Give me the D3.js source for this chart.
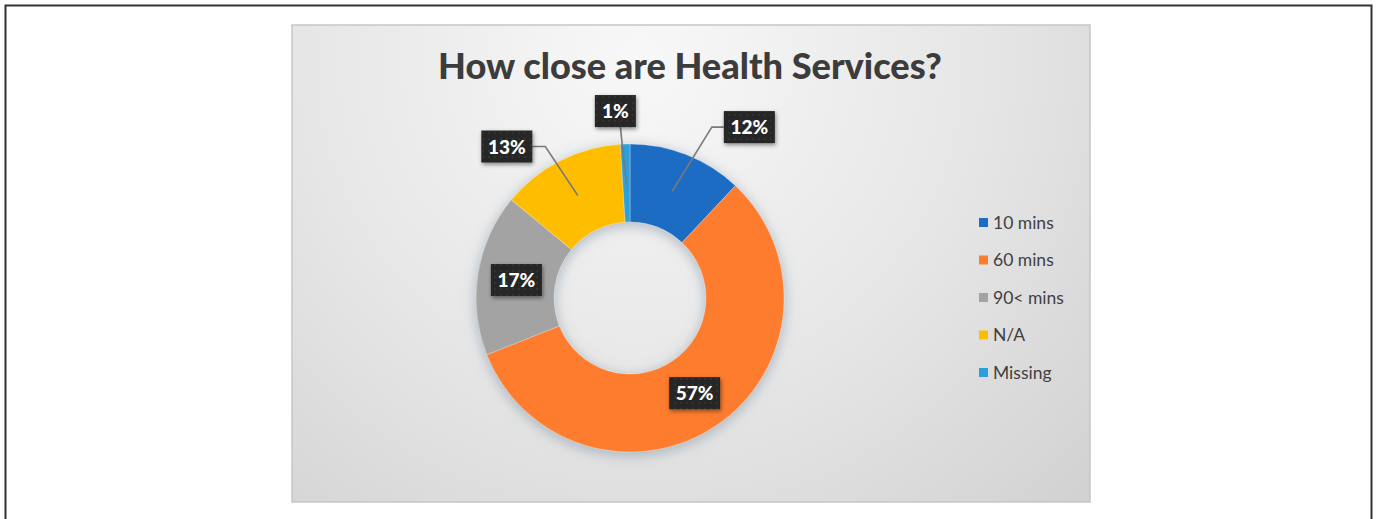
<!DOCTYPE html>
<html><head><meta charset="utf-8">
<script src="https://cdn.jsdelivr.net/npm/d3@7"></script>
<style>html,body{margin:0;padding:0;background:#fff;overflow:hidden}</style>
</head><body>
<script>
const categories = ["10 mins", "60 mins", "90< mins", "N/A", "Missing"];
const values = [12, 57, 17, 13, 1];
const colors = ["#1f6cc4", "#fd7c2d", "#a3a3a3", "#ffbd00", "#29a0dc"];
const labelOffsets = [[77, -64], [0, 0], [0, 0], [-71, -49], [-11, -72]];
const title = "How close are Health Services?";

const W = 1377, H = 519;
const svg = d3.select("body").append("svg").attr("width", W).attr("height", H)
  .style("font-family", "Lato, 'Open Sans', sans-serif");
const defs = svg.append("defs");

const bg = defs.append("radialGradient").attr("id", "bg")
  .attr("gradientUnits", "userSpaceOnUse").attr("cx", 640).attr("cy", 60).attr("r", 620);
bg.append("stop").attr("offset", "0").attr("stop-color", "#f8f8f8");
bg.append("stop").attr("offset", "0.55").attr("stop-color", "#e6e6e6");
bg.append("stop").attr("offset", "1").attr("stop-color", "#d2d2d2");

const sh = defs.append("filter").attr("id", "ringShadow").attr("x", "-20%").attr("y", "-20%").attr("width", "140%").attr("height", "140%");
sh.append("feDropShadow").attr("dx", 0).attr("dy", 3).attr("stdDeviation", 7)
  .attr("flood-color", "#8596a6").attr("flood-opacity", 0.65);

const bs = defs.append("filter").attr("id", "boxShadow").attr("x", "-30%").attr("y", "-30%").attr("width", "160%").attr("height", "160%");
bs.append("feDropShadow").attr("dx", 1).attr("dy", 2).attr("stdDeviation", 2)
  .attr("flood-color", "#000").attr("flood-opacity", 0.45);

const pat = defs.append("pattern").attr("id", "dots").attr("width", 6).attr("height", 6).attr("patternUnits", "userSpaceOnUse");
pat.append("rect").attr("width", 6).attr("height", 6).attr("fill", "#272727");
pat.append("circle").attr("cx", 3).attr("cy", 3).attr("r", 0.8).attr("fill", "#3a3a3a");

// outer frame
svg.append("rect").attr("x", 5.5).attr("y", 5.5).attr("width", W - 11).attr("height", H + 20)
  .attr("fill", "#fff").attr("stroke", "#333").attr("stroke-width", 2);

// chart panel
const panel = {x: 292, y: 25, w: 798, h: 477};
svg.append("rect").attr("x", panel.x).attr("y", panel.y).attr("width", panel.w).attr("height", panel.h)
  .attr("fill", "url(#bg)").attr("stroke", "#c6c6c6").attr("stroke-width", 1.5);

// title
const tt = svg.append("text").attr("x", 690).attr("y", 79).attr("text-anchor", "middle")
  .attr("fill", "#3c3c3c").attr("font-weight", 900).attr("font-size", 36).text(title);
const tw = tt.node().getComputedTextLength();
tt.attr("font-size", 36 * 504 / tw);

// donut
const cx = 630, cy = 298, R = 154, r0 = 76;
const pie = d3.pie().sort(null).value(d => d)(values);
const arc = d3.arc().innerRadius(r0).outerRadius(R);
const g = svg.append("g").attr("transform", `translate(${cx},${cy})`);
const ring = g.append("g").attr("filter", "url(#ringShadow)");
ring.selectAll("path").data(pie).join("path")
  .attr("d", arc).attr("fill", (d, i) => colors[i])
  .attr("stroke", "rgba(255,255,255,0.35)").attr("stroke-width", 0.8);

// labels
const fmt = v => v + "%";
pie.forEach((d, i) => {
  const [mx, my] = arc.centroid(d);
  const [ox, oy] = labelOffsets[i];
  const lx = mx + ox, ly = my + oy;
  const txt = fmt(values[i]);
  const bw = txt.length > 2 ? 51 : 41, bh = 32;
  if (ox !== 0 || oy !== 0) {
    let pts;
    if (Math.abs(ox) > 30) {
      const edge = ox > 0 ? lx - bw / 2 : lx + bw / 2;
      const knee = ox > 0 ? edge - 12 : edge + 13;
      pts = [[mx, my], [knee, ly], [edge, ly]];
    } else {
      pts = [[mx, my], [lx + 5, ly + bh / 2]];
    }
    g.append("path").attr("d", d3.line()(pts)).attr("fill", "none")
      .attr("stroke", "#7a7a7a").attr("stroke-width", 1.6);
  }
  g.append("rect").attr("x", lx - bw / 2).attr("y", ly - bh / 2).attr("width", bw).attr("height", bh)
    .attr("fill", "url(#dots)").attr("filter", "url(#boxShadow)");
  g.append("text").attr("x", lx).attr("y", ly + 7).attr("text-anchor", "middle")
    .attr("fill", "#fff").attr("font-weight", 900).attr("font-size", 19).text(txt);
});

// legend
const leg = svg.append("g");
const ly0 = 222.5, lstep = 37.5;
categories.forEach((c, i) => {
  const y = ly0 + i * lstep;
  leg.append("rect").attr("x", 979).attr("y", y - 4.5).attr("width", 9).attr("height", 9).attr("fill", colors[i]);
  leg.append("text").attr("x", 993).attr("y", y + 6).attr("fill", "#404040")
    .attr("font-size", 17.5).text(c);
});
</script>
</body></html>
